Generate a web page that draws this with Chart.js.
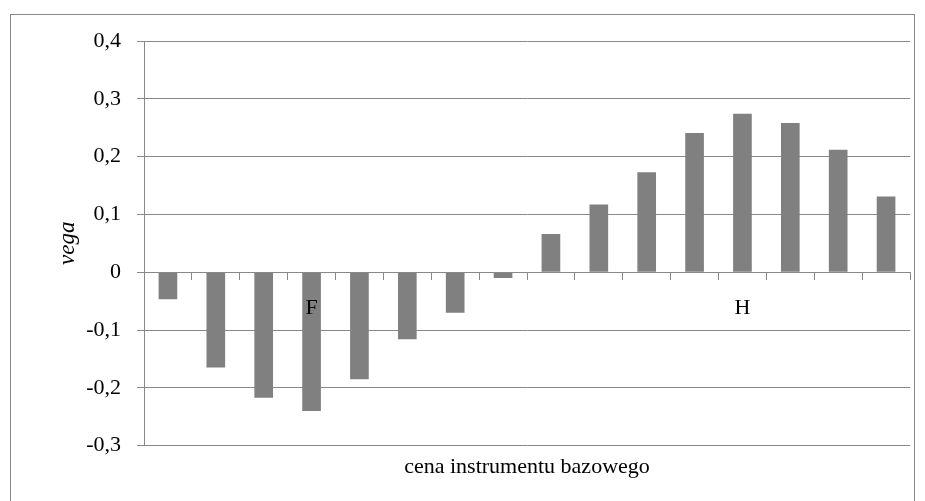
<!DOCTYPE html>
<html>
<head>
<meta charset="utf-8">
<script src="https://cdn.jsdelivr.net/npm/chart.js@4"></script>
<style>
  html, body { margin: 0; padding: 0; background: #fff; }
  #wrap { width: 925px; height: 501px; }
</style>
</head>
<body>
<div id="wrap"><canvas id="c" width="925" height="501"></canvas></div>
<script>
const categories = ['', '', '', 'F', '', '', '', '', '', '', '', '', 'H', '', '', ''];
const vegaValues = [-0.047, -0.165, -0.217, -0.240, -0.185, -0.116, -0.070, -0.010,
                    0.066, 0.117, 0.173, 0.241, 0.274, 0.258, 0.212, 0.131];
const yTickLabels = ['-0,3', '-0,2', '-0,1', '0', '0,1', '0,2', '0,3', '0,4'];
const xTitle = 'cena instrumentu bazowego';
const yTitle = 'vega';

const gray = '#888888';
const serif = '"Liberation Serif", "Times New Roman", serif';

const frame = {
  id: 'frame',
  beforeDraw(chart) {
    const ctx = chart.ctx;
    ctx.save();
    ctx.fillStyle = '#ffffff';
    ctx.fillRect(0, 0, chart.width, chart.height);
    ctx.strokeStyle = gray;
    ctx.lineWidth = 1;
    ctx.strokeRect(10.5, 14.5, 904, 520);
    ctx.restore();
  }
};

new Chart(document.getElementById('c'), {
  type: 'bar',
  data: {
    labels: categories,
    datasets: [{
      data: vegaValues,
      backgroundColor: '#808080',
      borderWidth: 0,
      barPercentage: 0.39,
      categoryPercentage: 1.0
    }]
  },
  options: {
    responsive: false,
    animation: false,
    devicePixelRatio: 1,
    layout: { padding: { left: 0, right: 15, top: 41, bottom: 21 } },
    plugins: {
      legend: { display: false },
      tooltip: { enabled: false },
      title: {
        display: true,
        fullSize: false,
        position: 'bottom',
        text: xTitle,
        color: '#000',
        font: { family: serif, size: 22, weight: 'normal' },
        padding: { top: 8, bottom: 0 }
      }
    },
    scales: {
      x: {
        position: { y: 0 },
        offset: true,
        grid: {
          display: true,
          offset: true,
          drawOnChartArea: false,
          drawTicks: true,
          tickLength: 7,
          color: gray,
          z: 1
        },
        border: { display: true, color: gray, width: 1, z: 1 },
        ticks: {
          z: 2,
          autoSkip: false,
          maxRotation: 0,
          padding: 16,
          color: '#000',
          font: { family: serif, size: 22 }
        }
      },
      y: {
        min: -0.3,
        max: 0.4,
        afterFit(axis) { axis.width = 144; },
        grid: {
          color: gray,
          drawTicks: true,
          tickLength: 7
        },
        border: { display: true, color: gray, width: 1 },
        ticks: {
          stepSize: 0.1,
          padding: 16,
          color: '#000',
          font: { family: serif, size: 22 },
          callback: (v, i) => yTickLabels[i]
        },
        title: {
          display: true,
          text: yTitle,
          color: '#000',
          font: { family: serif, size: 23, style: 'italic' },
          padding: { top: 54, bottom: 0 }
        }
      }
    }
  },
  plugins: [frame]
});
</script>
</body>
</html>
